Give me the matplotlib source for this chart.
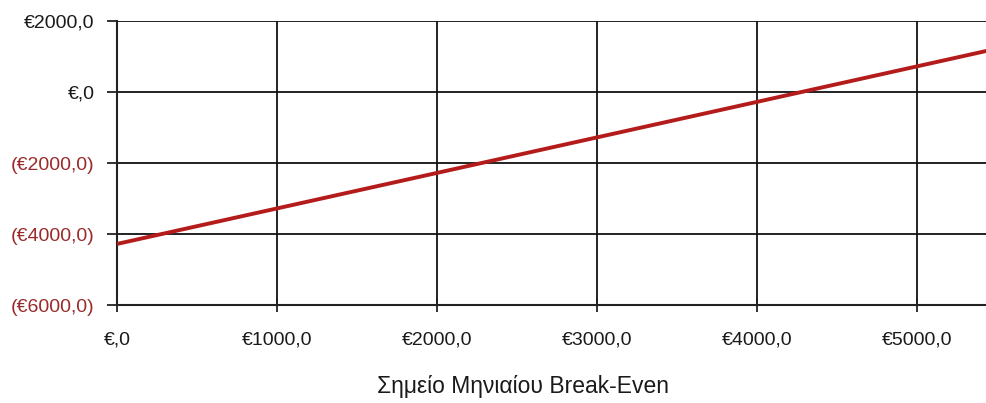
import matplotlib
matplotlib.use("Agg")
import matplotlib.pyplot as plt

# Data
sales = [0, 5600]
profit = [-4280, 1320]
x_ticks = [0, 1000, 2000, 3000, 4000, 5000]
x_labels = ["€,0", "€1000,0", "€2000,0", "€3000,0", "€4000,0", "€5000,0"]
y_ticks = [-6000, -4000, -2000, 0, 2000]
y_labels = ["(€6000,0)", "(€4000,0)", "(€2000,0)", "€,0", "€2000,0"]
x_title = "Σημείο Μηνιαίου Break-Even"

plt.rcParams['font.family'] = ['Liberation Sans', 'DejaVu Sans']

fig = plt.figure(figsize=(9.87, 4.03), dpi=100)
ax = fig.add_axes([117/987, 1-305/403, 1-117/987, (305-21)/403])

ax.plot(sales, profit, color='#B41C1C', lw=2.8, solid_capstyle='butt', zorder=3)

ax.set_xlim(0, 5440)
ax.set_ylim(-6000, 2000)
ax.set_xticks(x_ticks)
ax.set_xticklabels(x_labels)
ax.set_yticks(y_ticks)
ax.set_yticklabels(y_labels)
for lbl, v in zip(ax.get_yticklabels(), y_ticks):
    lbl.set_color('#9B2B2B' if v < 0 else '#1a1a1a')
for lbl in ax.get_xticklabels():
    lbl.set_color('#1a1a1a')

ax.grid(True, color='#111111', lw=1.3, zorder=1)
ax.set_axisbelow(True)
for s in ['top', 'right']:
    ax.spines[s].set_visible(False)
ax.spines['left'].set_color('#222222')
ax.spines['left'].set_linewidth(1.5)
ax.spines['bottom'].set_color('#222222')
ax.spines['bottom'].set_linewidth(1.5)
ax.tick_params(axis='y', direction='out', length=7, width=1.3, color='#222222', labelsize=14, pad=9)
ax.tick_params(axis='x', direction='inout', length=10, width=1.3, color='#222222', labelsize=14, pad=14)

fig.text(523/987, 1-393/403, x_title, ha='center', va='baseline', fontsize=16.5, color='#1a1a1a')

fig.savefig('out.png', dpi=100)
